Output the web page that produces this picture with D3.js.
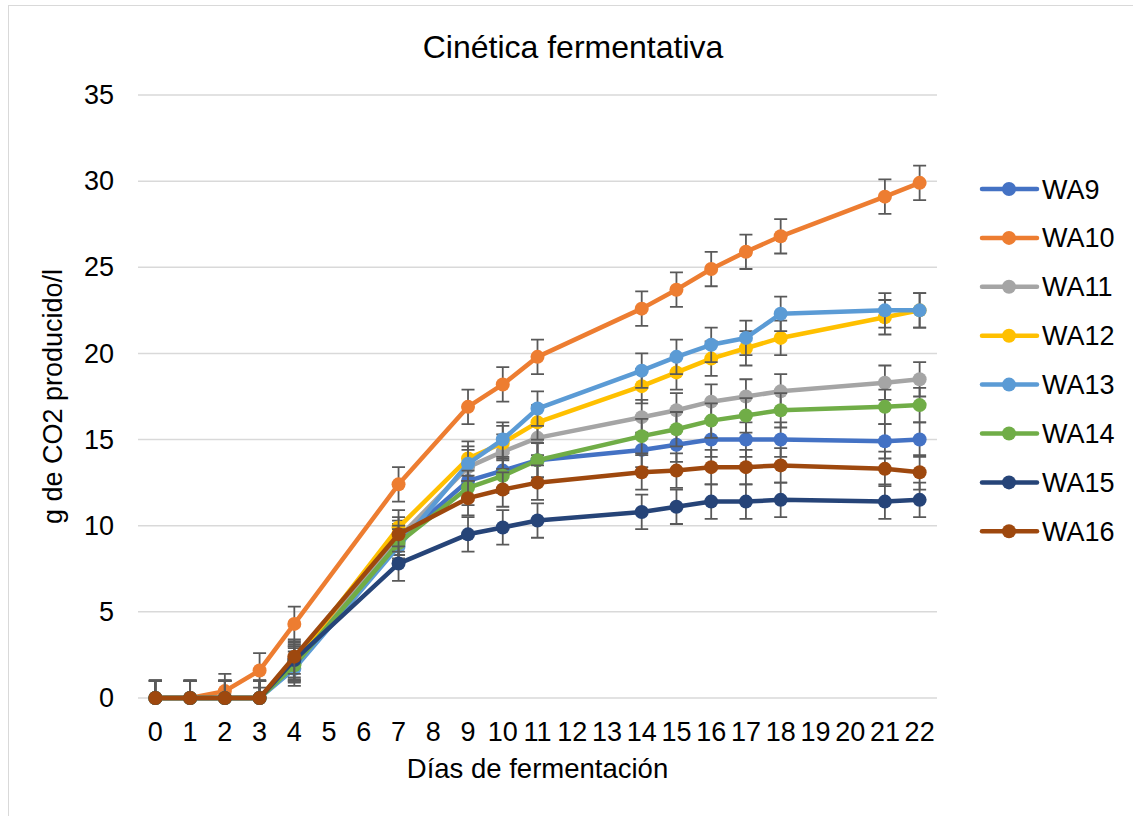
<!DOCTYPE html>
<html>
<head>
<meta charset="utf-8">
<script src="https://cdn.jsdelivr.net/npm/d3@7"></script>
<style>
  body { margin: 0; background: #fff; }
  text { font-family: "Liberation Sans", Arial, sans-serif; fill: #000; }
</style>
</head>
<body>
<div id="chart"></div>
<script>
var w = 1133;
var h = 816;

// days on the category axis (all shown), and days actually measured
var dayLabels = d3.range(0, 23).map(String);
var days = [0, 1, 2, 3, 4, 7, 9, 10, 11, 14, 15, 16, 17, 18, 21, 22];

var seriesNames = ['WA9', 'WA10', 'WA11', 'WA12', 'WA13', 'WA14', 'WA15', 'WA16'];
var seriesColors = ['#4472C4', '#ED7D31', '#A5A5A5', '#FFC000', '#5B9BD5', '#70AD47', '#264478', '#9E480E'];

var wa9  = [0, 0, 0, 0, 2.0, 9.1, 12.6, 13.2, 13.8, 14.4, 14.7, 15.0, 15.0, 15.0, 14.9, 15.0];
var wa10 = [0, 0, 0.4, 1.6, 4.3, 12.4, 16.9, 18.2, 19.8, 22.6, 23.7, 24.9, 25.9, 26.8, 29.1, 29.9];
var wa11 = [0, 0, 0, 0, 2.0, 9.3, 13.4, 14.3, 15.1, 16.3, 16.7, 17.2, 17.5, 17.8, 18.3, 18.5];
var wa12 = [0, 0, 0, 0, 2.1, 9.9, 13.9, 14.8, 16.0, 18.1, 18.9, 19.7, 20.3, 20.9, 22.1, 22.5];
var wa13 = [0, 0, 0, 0, 1.7, 8.8, 13.6, 15.0, 16.8, 19.0, 19.8, 20.5, 20.9, 22.3, 22.5, 22.5];
var wa14 = [0, 0, 0, 0, 1.9, 9.0, 12.2, 12.9, 13.8, 15.2, 15.6, 16.1, 16.4, 16.7, 16.9, 17.0];
var wa15 = [0, 0, 0, 0, 2.2, 7.8, 9.5, 9.9, 10.3, 10.8, 11.1, 11.4, 11.4, 11.5, 11.4, 11.5];
var wa16 = [0, 0, 0, 0, 2.4, 9.5, 11.6, 12.1, 12.5, 13.1, 13.2, 13.4, 13.4, 13.5, 13.3, 13.1];
var seriesValues = [wa9, wa10, wa11, wa12, wa13, wa14, wa15, wa16];

// same +/- error for every point
var errorMargin = 1;

var yTicks = [0, 5, 10, 15, 20, 25, 30, 35];

var plotLeft = 138, plotRight = 937, plotTop = 95, plotBottom = 698;

var svg = d3.select('#chart').append('svg')
  .attr('width', w)
  .attr('height', h);

// chart border
svg.append('rect')
  .attr('x', 8.5).attr('y', 5.5)
  .attr('width', w + 20).attr('height', h + 20)
  .attr('fill', 'none')
  .attr('stroke', '#d9d9d9')
  .attr('stroke-width', 1);

var x = d3.scaleBand()
  .domain(dayLabels)
  .range([plotLeft, plotRight])
  .padding(0);

var y = d3.scaleLinear()
  .domain([0, 35])
  .range([plotBottom, plotTop]);

function xPos(day) {
  return x(String(day)) + x.bandwidth() / 2;
}

// gridlines
svg.append('g')
  .selectAll('line')
  .data(yTicks)
  .enter()
  .append('line')
  .attr('x1', plotLeft).attr('x2', plotRight)
  .attr('y1', function(d) { return y(d); })
  .attr('y2', function(d) { return y(d); })
  .attr('stroke', '#d9d9d9')
  .attr('stroke-width', 1.5);

// y axis labels
var yAxis = d3.axisLeft(y).tickValues(yTicks).tickSize(0).tickPadding(0);
var yG = svg.append('g')
  .attr('transform', 'translate(114,0)')
  .call(yAxis);
yG.select('.domain').remove();
yG.selectAll('text')
  .attr('font-size', 27)
  .attr('font-family', '"Liberation Sans", Arial, sans-serif')
  .attr('fill', '#000');

// x axis labels
var xAxis = d3.axisBottom(x).tickSize(0).tickPadding(0);
var xG = svg.append('g')
  .attr('transform', 'translate(0,' + plotBottom + ')')
  .call(xAxis);
xG.select('.domain').remove();
xG.selectAll('text')
  .attr('dy', null)
  .attr('y', 43)
  .attr('font-size', 27)
  .attr('font-family', '"Liberation Sans", Arial, sans-serif')
  .attr('fill', '#000');

// titles
svg.append('text')
  .attr('x', 573).attr('y', 58)
  .attr('text-anchor', 'middle')
  .attr('font-size', 32)
  .text('Cinética fermentativa');

svg.append('text')
  .attr('x', (plotLeft + plotRight) / 2).attr('y', 778)
  .attr('text-anchor', 'middle')
  .attr('font-size', 27.5)
  .text('Días de fermentación');

svg.append('text')
  .attr('transform', 'translate(62,' + ((plotTop + plotBottom) / 2) + ') rotate(-90)')
  .attr('text-anchor', 'middle')
  .attr('font-size', 27)
  .text('g de CO2 producido/l');

// clip error bars to the plot area
svg.append('clipPath')
  .attr('id', 'plot-clip')
  .append('rect')
  .attr('x', plotLeft).attr('y', plotTop - 40)
  .attr('width', plotRight - plotLeft).attr('height', plotBottom - plotTop + 40);

var line = d3.line()
  .x(function(d) { return xPos(d.day); })
  .y(function(d) { return y(d.value); });

for (var i = 0; i < seriesNames.length; i++) {
  var pts = days.map(function(d, j) { return { day: d, value: seriesValues[i][j] }; });
  var g = svg.append('g').attr('class', 'series-' + seriesNames[i]);

  g.append('path')
    .datum(pts)
    .attr('d', line)
    .attr('fill', 'none')
    .attr('stroke', seriesColors[i])
    .attr('stroke-width', 4.5)
    .attr('stroke-linejoin', 'round')
    .attr('stroke-linecap', 'round');

  var eb = g.append('g').attr('clip-path', 'url(#plot-clip)');
  eb.selectAll('.bar')
    .data(pts)
    .enter()
    .append('path')
    .attr('d', function(d) {
      var cx = xPos(d.day);
      var y1 = y(d.value + errorMargin);
      var y2 = y(d.value - errorMargin);
      return 'M' + cx + ',' + y1 + 'V' + y2 +
        'M' + (cx - 6.5) + ',' + y1 + 'H' + (cx + 6.5) +
        'M' + (cx - 6.5) + ',' + y2 + 'H' + (cx + 6.5);
    })
    .attr('fill', 'none')
    .attr('stroke', '#595959')
    .attr('stroke-width', 1.8);

  g.selectAll('circle')
    .data(pts)
    .enter()
    .append('circle')
    .attr('cx', function(d) { return xPos(d.day); })
    .attr('cy', function(d) { return y(d.value); })
    .attr('r', 7)
    .attr('fill', seriesColors[i]);
}

// legend
var legend = svg.append('g');
seriesNames.forEach(function(name, i) {
  var ly = 189 + i * 48.9;
  legend.append('line')
    .attr('x1', 982).attr('x2', 1037)
    .attr('y1', ly).attr('y2', ly)
    .attr('stroke', seriesColors[i])
    .attr('stroke-width', 4.5)
    .attr('stroke-linecap', 'round');
  legend.append('circle')
    .attr('cx', 1009).attr('cy', ly)
    .attr('r', 7)
    .attr('fill', seriesColors[i]);
  legend.append('text')
    .attr('x', 1042).attr('y', ly + 9.5)
    .attr('font-size', 27)
    .text(name);
});
</script>
</body>
</html>
